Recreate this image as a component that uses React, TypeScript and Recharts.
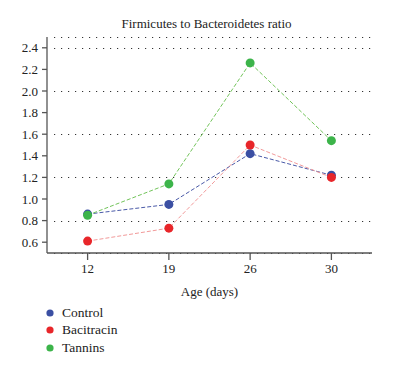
import { LineChart, Line, XAxis, YAxis, CartesianGrid, Legend, Label } from "recharts";

const ages = ["12", "19", "26", "30"];
const control = [0.86, 0.95, 1.42, 1.22];
const bacitracin = [0.61, 0.73, 1.5, 1.2];
const tannins = [0.85, 1.14, 2.26, 1.54];
const yTicks = [0.6, 0.8, 1.0, 1.2, 1.4, 1.6, 1.8, 2.0, 2.2, 2.4];

const series = [
  { key: "Control", line: "#4a5aa8", dot: "#3b4fa3" },
  { key: "Bacitracin", line: "#f29a9a", dot: "#e8262a" },
  { key: "Tannins", line: "#72c45a", dot: "#3cb44a" },
];

const data = ages.map((age, i) => ({
  age,
  Control: control[i],
  Bacitracin: bacitracin[i],
  Tannins: tannins[i],
}));

const font = "'Liberation Serif', 'DejaVu Serif', serif";

function LegendList() {
  return (
    <div style={{ fontFamily: font, fontSize: 13.5, color: "#222", textAlign: "left" }}>
      {series.map((s) => (
        <div key={s.key} style={{ display: "flex", alignItems: "center", height: 17.5 }}>
          <svg width={8} height={8} style={{ marginRight: 8 }}>
            <circle cx={4} cy={4} r={3.6} fill={s.dot} />
          </svg>
          <span style={{ fontFamily: font }}>{s.key}</span>
        </div>
      ))}
    </div>
  );
}

// dotted grid line snapped to the pixel grid so the dots stay crisp
const gridLine = (props: any) => {
  const y = Math.round(props.y1) + 0.5;
  return (
    <line
      key={props.key ?? `g-${props.index}`}
      x1={props.x1 + 7}
      x2={props.x2}
      y1={y}
      y2={y}
      stroke="#333"
      strokeWidth={1}
      strokeDasharray="1.2 5.8"
    />
  );
};

export default function App() {
  return (
    <div style={{ position: "fixed", left: 0, top: 0, width: 393, height: 366, background: "#fff" }}>
      <div
        style={{
          position: "absolute",
          top: 16,
          left: 0,
          width: 413,
          textAlign: "center",
          fontFamily: font,
          fontSize: 13,
          color: "#222",
        }}
      >
        Firmicutes to Bacteroidetes ratio
      </div>
      <LineChart
        width={393}
        height={366}
        data={data}
        margin={{ top: 37, right: 21, bottom: 68, left: 0 }}
      >
        <CartesianGrid horizontal={gridLine} vertical={false} />
        <XAxis
          dataKey="age"
          padding={{ left: 40.6, right: 40.6 }}
          height={45}
          tickSize={7}
          tickMargin={4}
          stroke="#555"
          strokeWidth={1.3}
          tick={{ fill: "#222", fontSize: 13, fontFamily: font }}
        >
          <Label
            value="Age (days)"
            position="insideBottom"
            offset={2}
            style={{ fill: "#222", fontSize: 13, fontFamily: font }}
          />
        </XAxis>
        <YAxis
          domain={[0.5, 2.5]}
          ticks={yTicks}
          width={47}
          tickSize={5}
          tickMargin={4}
          stroke="#555"
          strokeWidth={1.3}
          tickFormatter={(v) => v.toFixed(1)}
          tick={{ fill: "#222", fontSize: 13, fontFamily: font }}
        />
        <Legend
          layout="horizontal"
          verticalAlign="middle"
          align="center"
          content={<LegendList />}
          wrapperStyle={{ top: 304, left: 46, width: 150, height: 56 }}
        />
        {series.map((s) => (
          <Line
            key={s.key}
            dataKey={s.key}
            type="linear"
            stroke={s.line}
            strokeWidth={1}
            strokeDasharray="4 2"
            dot={{ r: 4.5, fill: s.dot, stroke: s.dot, strokeWidth: 0, strokeDasharray: "" }}
            isAnimationActive={false}
          />
        ))}
      </LineChart>
    </div>
  );
}
